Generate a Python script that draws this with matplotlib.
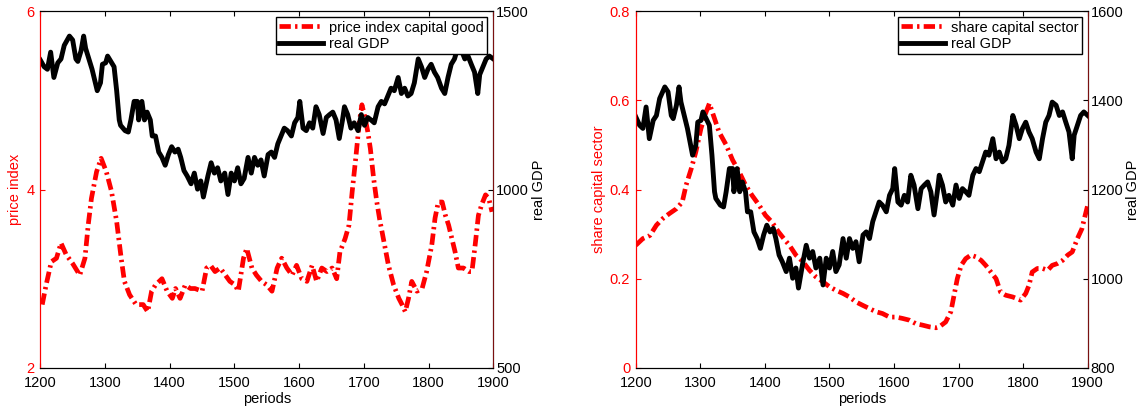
import matplotlib
matplotlib.use('Agg')
import matplotlib.pyplot as plt
from matplotlib.ticker import FuncFormatter

plt.rcParams['font.family'] = ['Liberation Sans', 'DejaVu Sans']
plt.rcParams['font.size'] = 10.5

# real GDP (same series in both panels)
gdp_t = [1200, 1206, 1211, 1216, 1221, 1227, 1232, 1237, 1245, 1250, 1255, 1258, 1263, 1267,
         1270, 1275, 1280, 1285, 1288, 1293, 1296, 1301, 1304, 1309, 1314, 1318, 1322, 1324,
         1331, 1336, 1340, 1345, 1350, 1352, 1357, 1361, 1365, 1370, 1373, 1378, 1383, 1388,
         1393, 1398, 1403, 1408, 1413, 1417, 1422, 1427, 1433, 1438, 1443, 1448, 1452, 1459,
         1464, 1469, 1474, 1479, 1485, 1490, 1495, 1500, 1505, 1510, 1515, 1521, 1526, 1531,
         1536, 1541, 1546, 1552, 1557, 1562, 1567, 1572, 1577, 1582, 1588, 1593, 1598, 1601,
         1606, 1611, 1616, 1621, 1626, 1631, 1637, 1642, 1647, 1652, 1657, 1662, 1667, 1670,
         1675, 1680, 1685, 1691, 1696, 1701, 1706, 1711, 1716, 1722, 1727, 1732, 1737, 1742,
         1747, 1753, 1758, 1763, 1768, 1773, 1778, 1784, 1789, 1794, 1799, 1804, 1809, 1814,
         1820, 1825, 1830, 1835, 1840, 1845, 1851, 1856, 1861, 1866, 1871, 1876, 1879, 1884,
         1889, 1894, 1900]
gdp = [1363, 1344, 1337, 1385, 1314, 1355, 1366, 1404, 1430, 1419, 1366, 1359, 1389, 1430,
       1396, 1366, 1337, 1299, 1277, 1299, 1351, 1355, 1374, 1359, 1344, 1277, 1195, 1180,
       1165, 1161, 1195, 1247, 1247, 1195, 1247, 1195, 1217, 1195, 1150, 1150, 1105, 1090,
       1068, 1098, 1120, 1105, 1113, 1090, 1053, 1038, 1016, 1046, 1001, 1024, 979, 1038,
       1075, 1046, 1061, 1024, 1046, 986, 1046, 1024, 1061, 1016, 1031, 1090, 1046, 1090,
       1068, 1083, 1038, 1098, 1105, 1090, 1128, 1150, 1172, 1165, 1150, 1187, 1202, 1247,
       1172, 1165, 1187, 1172, 1232, 1210, 1157, 1202, 1210, 1217, 1195, 1143, 1195, 1232,
       1210, 1172, 1187, 1165, 1210, 1180, 1202, 1195, 1187, 1232, 1247, 1240, 1262, 1284,
       1277, 1314, 1269, 1284, 1262, 1269, 1299, 1366, 1344, 1314, 1337, 1351, 1329, 1314,
       1284, 1269, 1314, 1351, 1366, 1396, 1389, 1366, 1374, 1351, 1329, 1269, 1322, 1344,
       1366, 1374, 1366]

# price index capital good
price_t = [1203, 1209, 1217, 1225, 1232, 1240, 1250, 1261, 1269, 1274, 1279, 1287, 1294, 1302,
           1310, 1318, 1325, 1330, 1338, 1348, 1359, 1366, 1372, 1378, 1388, 1396, 1404, 1409,
           1416, 1424, 1432, 1439, 1450, 1457, 1463, 1470, 1478, 1486, 1493, 1501, 1506, 1514,
           1519, 1527, 1534, 1542, 1550, 1558, 1566, 1573, 1581, 1589, 1596, 1604, 1612, 1620,
           1627, 1635, 1643, 1651, 1658, 1663, 1671, 1677, 1682, 1688, 1693, 1697, 1702, 1706,
           1710, 1715, 1720, 1725, 1728, 1733, 1738, 1746, 1754, 1759, 1764, 1769, 1774, 1782,
           1790, 1797, 1805, 1810, 1815, 1821, 1826, 1831, 1836, 1841, 1846, 1854, 1862, 1867,
           1872, 1877, 1882, 1888, 1893, 1898]
price = [2.71, 2.93, 3.19, 3.23, 3.40, 3.27, 3.17, 3.04, 3.23, 3.60, 3.90, 4.20, 4.35, 4.20,
         3.98, 3.64, 3.23, 2.97, 2.82, 2.71, 2.71, 2.63, 2.86, 2.93, 3.00, 2.86, 2.78, 2.89,
         2.78, 2.93, 2.89, 2.89, 2.86, 3.12, 3.15, 3.08, 3.12, 3.04, 2.97, 2.93, 2.86, 3.23,
         3.34, 3.12, 3.04, 2.97, 2.93, 2.86, 3.12, 3.23, 3.12, 3.04, 3.15, 3.00, 2.97, 3.15,
         2.97, 3.12, 3.08, 3.12, 3.00, 3.30, 3.45, 3.60, 3.98, 4.39, 4.76, 4.95, 4.80, 4.65,
         4.46, 4.13, 3.86, 3.64, 3.53, 3.34, 3.15, 2.93, 2.78, 2.71, 2.63, 2.78, 2.97, 2.86,
         2.89, 3.08, 3.38, 3.68, 3.86, 3.86, 3.71, 3.60, 3.45, 3.30, 3.12, 3.12, 3.08, 3.08,
         3.38, 3.71, 3.83, 3.94, 3.90, 3.75]

# share capital sector
share_t = [1200, 1211, 1222, 1232, 1242, 1252, 1263, 1272, 1278, 1286, 1293, 1301, 1309, 1314,
           1322, 1329, 1340, 1350, 1360, 1370, 1380, 1391, 1401, 1411, 1421, 1432, 1438, 1448,
           1459, 1469, 1479, 1490, 1500, 1510, 1521, 1531, 1541, 1552, 1562, 1572, 1582, 1593,
           1603, 1613, 1624, 1634, 1644, 1655, 1665, 1670, 1680, 1688, 1693, 1698, 1704, 1711,
           1719, 1727, 1735, 1742, 1750, 1758, 1765, 1773, 1784, 1791, 1796, 1804, 1809, 1814,
           1822, 1830, 1838, 1845, 1853, 1861, 1869, 1876, 1884, 1891, 1896, 1900]
share = [0.275, 0.29, 0.297, 0.32, 0.335, 0.346, 0.357, 0.372, 0.41, 0.447, 0.484, 0.537, 0.574,
         0.593, 0.559, 0.529, 0.50, 0.466, 0.44, 0.41, 0.387, 0.365, 0.342, 0.327, 0.305, 0.285,
         0.275, 0.253, 0.238, 0.219, 0.204, 0.193, 0.182, 0.174, 0.167, 0.159, 0.148, 0.14, 0.133,
         0.126, 0.122, 0.114, 0.114, 0.111, 0.107, 0.099, 0.096, 0.092, 0.09, 0.092, 0.103, 0.126,
         0.163, 0.20, 0.23, 0.245, 0.253, 0.249, 0.241, 0.23, 0.215, 0.20, 0.17, 0.163, 0.159,
         0.155, 0.152, 0.167, 0.185, 0.215, 0.223, 0.223, 0.219, 0.23, 0.234, 0.241, 0.253, 0.26,
         0.29, 0.312, 0.342, 0.365]

RED = '#ff0000'
SPINE_R = '#7a1010'
dash = (2.4, 0.9, 0.5, 0.9)
fmt = FuncFormatter(lambda v, p: '%g' % round(v, 6))


def panel(rect, t_red, y_red, red_label, red_ylabel, red_lim, red_ticks, gdp_lim, gdp_ticks):
    ax = fig.add_axes(rect)
    l1, = ax.plot(t_red, y_red, color=RED, lw=3.4, dashes=dash, label=red_label)
    ax.set_xlim(1200, 1900)
    ax.set_ylim(*red_lim)
    ax.set_yticks(red_ticks)
    ax.yaxis.set_major_formatter(fmt)
    ax.set_xticks(range(1200, 1901, 100))
    ax.set_xlabel('periods', labelpad=1)
    ax.set_ylabel(red_ylabel, color=RED, labelpad=3)
    ax.tick_params(axis='y', colors=RED, direction='in', length=3.5, pad=4)
    ax.tick_params(axis='x', direction='in', length=3.5, top=True, pad=6)
    ax.spines['left'].set_color(RED)

    ax2 = ax.twinx()
    l2, = ax2.plot(gdp_t, gdp, color='black', lw=3.5, label='real GDP')
    ax2.set_ylim(*gdp_lim)
    ax2.set_yticks(gdp_ticks)
    ax2.set_ylabel('real GDP', rotation=90, labelpad=2)
    ax2.tick_params(axis='y', direction='in', length=3.5, pad=2)
    ax2.spines['right'].set_color(SPINE_R)
    ax2.spines['left'].set_color(RED)
    ax2.set_xlim(1200, 1900)

    leg = ax2.legend([l1, l2], [red_label, 'real GDP'], loc='upper right',
                     fancybox=False, edgecolor='black', framealpha=1,
                     handlelength=3.0, borderaxespad=0.4, borderpad=0.25,
                     labelspacing=0.15, handletextpad=0.4)
    leg.get_frame().set_linewidth(1.0)
    return ax, ax2


fig = plt.figure(figsize=(11.48, 4.12), dpi=100)

panel([0.0351, 0.107, 0.3946, 0.866], price_t, price, 'price index capital good',
      'price index', (2, 6), [2, 4, 6], (500, 1500), [500, 1000, 1500])

panel([0.5538, 0.107, 0.3937, 0.866], share_t, share, 'share capital sector',
      'share capital sector', (0, 0.8), [0, 0.2, 0.4, 0.6, 0.8], (800, 1600),
      [800, 1000, 1200, 1400, 1600])

fig.savefig('out.png', dpi=100)
